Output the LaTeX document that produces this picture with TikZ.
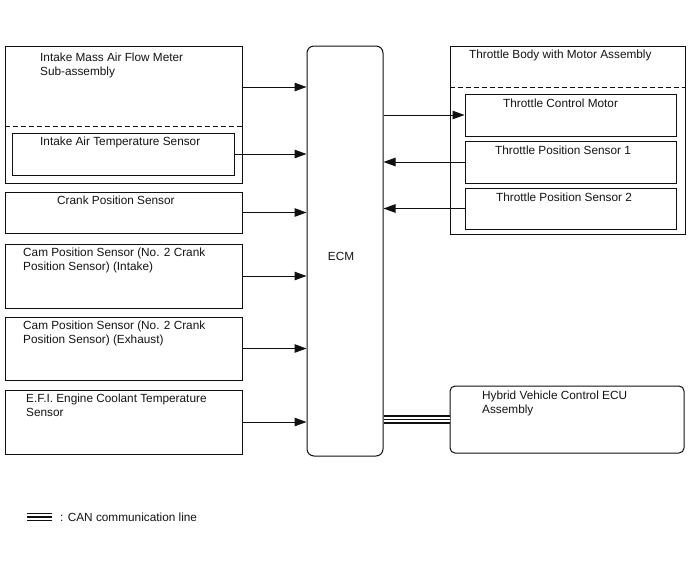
\documentclass[tikz,border=0pt]{standalone}
\usepackage{fontspec}
\setmainfont{Liberation Sans}
\usepackage{tikz}
\usetikzlibrary{calc, positioning, arrows.meta}
\definecolor{color_line}{HTML}{101010}
\definecolor{color_text}{HTML}{141414}
\tikzset{
  unit_box/.style={draw=color_line, line width=1pt, fill=white, inner sep=0pt, rectangle},
  ecu_box/.style={unit_box, rounded corners=7pt},
  unit_label/.style={font=\fontsize{11.8}{14}\selectfont, text=color_text, anchor=north west, inner sep=0pt, align=left},
  part_divide/.style={draw=color_line, line width=1pt, dash pattern=on 5pt off 3pt},
  signal_arrow/.style={-{Triangle[length=12pt, width=8.5pt]}, draw=color_line, line width=1pt},
  can_line/.style={draw=color_line, line width=8.4pt,
    postaction={draw=white, line width=5.6pt},
    postaction={draw=color_line, line width=1.4pt}},
}

\begin{document}
\begin{tikzpicture}[x=1pt, y=-1pt]
    \useasboundingbox (0,0) rectangle (688,560);
    % ECM
    \node[ecu_box, minimum width=76pt, minimum height=410pt] (ecm) at (345,251) {};
    \node[unit_label, anchor=center] (ecm_text) at (341,256) {ECM};
    % sensors on the left
    \node[unit_box, minimum width=237pt, minimum height=137pt] (maf) at (123.5,114.5) {};
    \draw[part_divide] (maf.west |- 0,126) -- (maf.east |- 0,126);
    \node[unit_box, minimum width=222pt, minimum height=42pt] (iat) at (123,154) {};
    \node[unit_box, minimum width=237pt, minimum height=41pt] (crank) at (123.5,212.5) {};
    \node[unit_box, minimum width=237pt, minimum height=64pt] (cam_in) at (123.5,276) {};
    \node[unit_box, minimum width=237pt, minimum height=63pt] (cam_ex) at (123.5,348.5) {};
    \node[unit_box, minimum width=237pt, minimum height=64pt] (ect) at (123.5,422) {};
    \node[unit_label] (maf_text) at (40,53) {Intake Mass Air Flow Meter\\Sub-assembly};
    \node[unit_label] (iat_text) at (40,137) {Intake Air Temperature Sensor};
    \node[unit_label] (crank_text) at (57,196) {Crank Position Sensor};
    \node[unit_label] (cam_in_text) at (23,248) {Cam Position Sensor (No. 2 Crank\\Position Sensor) (Intake)};
    \node[unit_label] (cam_ex_text) at (23,321) {Cam Position Sensor (No. 2 Crank\\Position Sensor) (Exhaust)};
    \node[unit_label] (ect_text) at (26,394) {E.F.I. Engine Coolant Temperature\\Sensor};
    % throttle body on the right
    \node[unit_box, minimum width=235pt, minimum height=188pt] (tb) at (567.5,140) {};
    \draw[part_divide] (tb.west |- 0,87) -- (tb.east |- 0,87);
    \node[unit_box, minimum width=211pt, minimum height=42pt] (tcm) at (570.5,115) {};
    \node[unit_box, minimum width=211pt, minimum height=42pt] (tps1) at (570.5,162) {};
    \node[unit_box, minimum width=211pt, minimum height=41pt] (tps2) at (570.5,208.5) {};
    \node[unit_label] (tb_text) at (469,50) {Throttle Body with Motor Assembly};
    \node[unit_label] (tcm_text) at (503,99) {Throttle Control Motor};
    \node[unit_label] (tps1_text) at (495,146) {Throttle Position Sensor 1};
    \node[unit_label] (tps2_text) at (496,193) {Throttle Position Sensor 2};
    % hybrid ECU
    \node[unit_box, rounded corners=5pt, minimum width=234pt, minimum height=67pt] (hv) at (567,419.5) {};
    \node[unit_label] (hv_text) at (482,391) {Hybrid Vehicle Control ECU\\Assembly};
    % signal lines
    \draw[signal_arrow] (maf.east |- 0,87) -- (ecm.west |- 0,87);
    \draw[signal_arrow] (iat.east) -- (ecm.west |- iat.east);
    \draw[signal_arrow] (crank.east) -- (ecm.west |- crank.east);
    \draw[signal_arrow] (cam_in.east) -- (ecm.west |- cam_in.east);
    \draw[signal_arrow] (cam_ex.east) -- (ecm.west |- cam_ex.east);
    \draw[signal_arrow] (ect.east) -- (ecm.west |- ect.east);
    \draw[signal_arrow] (ecm.east |- tcm.west) -- (tcm.west);
    \draw[signal_arrow] (tps1.west) -- (ecm.east |- tps1.west);
    \draw[signal_arrow] (tps2.west) -- (ecm.east |- tps2.west);
    \draw[can_line] (ecm.east |- hv.west) -- (hv.west);
    % legend
    \draw[can_line] (27,517) -- (52,517);
    \node[unit_label, anchor=west] (legend_text) at (60,517) {: CAN communication line};
  \end{tikzpicture}
\end{document}
